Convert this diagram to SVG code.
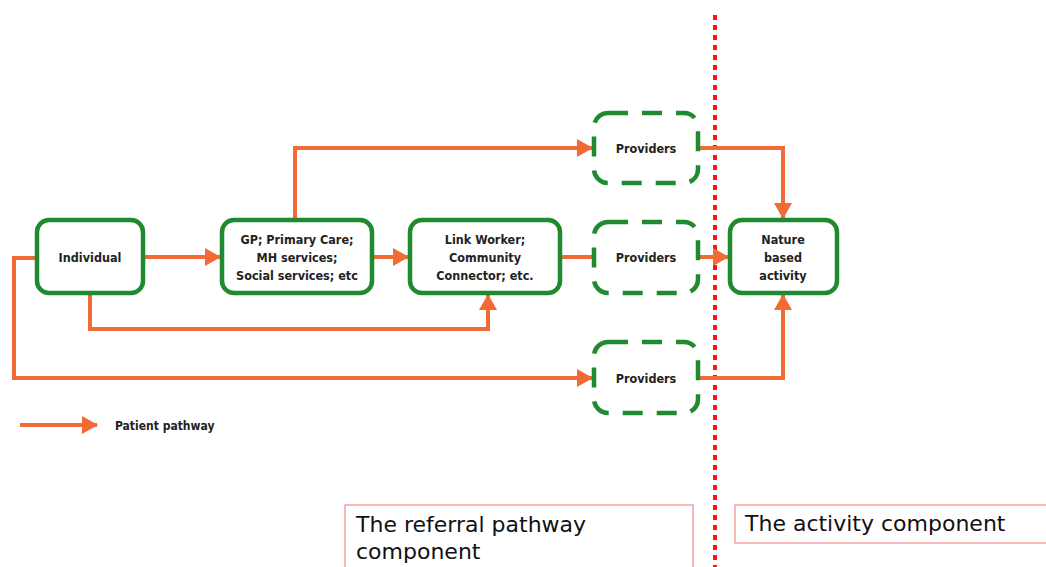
<svg xmlns="http://www.w3.org/2000/svg" width="1046" height="567" viewBox="0 0 1046 567">
<style>
.node{fill:#fff;stroke:#1f8a2f;stroke-width:4.5}
.dash{fill:#fff;stroke:#1f8a2f;stroke-width:4.5;stroke-dasharray:20 14}
.t{font-family:"DejaVu Sans Condensed","Liberation Sans",sans-serif;font-weight:bold;font-size:12.5px;fill:#222;text-anchor:middle}
.c{fill:none;stroke:#f26a35;stroke-width:4}
.big{font-family:"DejaVu Sans","Liberation Sans",sans-serif;font-size:22px;fill:#111}
.comp{fill:#fff;stroke:#f08a8a;stroke-width:1.2}
</style>
<defs>
<marker id="ah" markerUnits="userSpaceOnUse" markerWidth="16" markerHeight="18" refX="15" refY="9" orient="auto">
<path d="M0,0 L16,9 L0,18 z" fill="#f26a35"/>
</marker>
</defs>
<rect width="1046" height="567" fill="#fff"/>
<line x1="715" y1="15" x2="715" y2="567" stroke="#ff1010" stroke-width="4" stroke-dasharray="5 5"/>
<g id="connectors">
<path class="c" d="M143,257 H220" marker-end="url(#ah)"/>
<path class="c" d="M372,257 H408" marker-end="url(#ah)"/>
<path class="c" d="M560,257 H594"/>
<path class="c" d="M295,220 V148 H592" marker-end="url(#ah)"/>
<path class="c" d="M90,293 V329 H488 V295" marker-end="url(#ah)"/>
<path class="c" d="M37,258 H14 V378 H592" marker-end="url(#ah)"/>
<path class="c" d="M698,148 H783 V218" marker-end="url(#ah)"/>
<path class="c" d="M698,257 H728" marker-end="url(#ah)"/>
<path class="c" d="M698,378 H783 V295" marker-end="url(#ah)"/>
<path class="c" d="M20,425 H97" marker-end="url(#ah)"/>
</g>
<g id="individual"><rect class="node" x="37" y="220" width="106" height="73" rx="12"/><text class="t" x="90" y="262">Individual</text></g>
<g id="gp"><rect class="node" x="222" y="220" width="150" height="73" rx="12"/>
<text class="t" x="297" y="244">GP; Primary Care;</text><text class="t" x="297" y="262">MH services;</text><text class="t" x="297" y="280">Social services; etc</text></g>
<g id="link"><rect class="node" x="410" y="220" width="150" height="73" rx="12"/>
<text class="t" x="485" y="244">Link Worker;</text><text class="t" x="485" y="262">Community</text><text class="t" x="485" y="280">Connector; etc.</text></g>
<g id="providers1"><rect class="dash" x="594" y="113" width="104" height="70" rx="14"/><text class="t" x="646" y="153">Providers</text></g>
<g id="providers2"><rect class="dash" x="594" y="222" width="104" height="71" rx="14"/><text class="t" x="646" y="262">Providers</text></g>
<g id="providers3"><rect class="dash" x="594" y="342" width="104" height="71" rx="14"/><text class="t" x="646" y="383">Providers</text></g>
<g id="nature"><rect class="node" x="730" y="220" width="107" height="73" rx="12"/>
<text class="t" x="783" y="244">Nature</text><text class="t" x="783" y="262">based</text><text class="t" x="783" y="280">activity</text></g>
<g id="legend"><text class="t" x="115" y="430" style="text-anchor:start;font-size:12px">Patient pathway</text></g>
<g id="referral-component"><rect class="comp" x="345" y="505" width="348" height="80"/>
<text class="big" x="356" y="532">The referral pathway</text><text class="big" x="356" y="559">component</text></g>
<g id="activity-component"><rect class="comp" x="735" y="505" width="330" height="38"/>
<text class="big" x="745" y="531">The activity component</text></g>
</svg>
